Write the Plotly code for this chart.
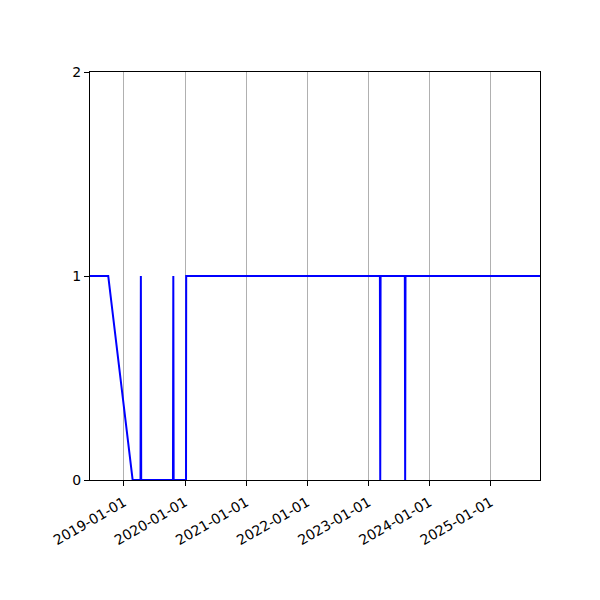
import plotly.graph_objects as go

# sampled points of the step-like series
dates = ["2018-06-12", "2018-09-29", "2019-02-22", "2019-04-10", "2019-04-12",
         "2019-04-14", "2019-10-21", "2019-10-23", "2019-10-25", "2020-01-07",
         "2020-01-08", "2023-03-11", "2023-03-13", "2023-03-15", "2023-08-07",
         "2023-08-09", "2023-08-11", "2025-10-23"]
values = [1, 1, 0, 0, 1, 0, 0, 1, 0, 0, 1, 1, 0, 1, 1, 0, 1, 1]

tick_dates = ["2019-01-01", "2020-01-01", "2021-01-01", "2022-01-01",
              "2023-01-01", "2024-01-01", "2025-01-01"]
y_ticks = [0, 1, 2]

fig = go.Figure()
fig.add_trace(go.Scatter(x=dates, y=values, mode="lines",
                         line=dict(color="#0000ff", width=2), showlegend=False))

fig.update_xaxes(
    range=[dates[0], dates[-1]], tickvals=tick_dates, ticktext=tick_dates,
    tickangle=-30, showgrid=True, gridcolor="#b0b0b0", gridwidth=1,
    showline=True, linecolor="black", linewidth=1, mirror=True,
    ticks="outside", ticklen=5, tickcolor="black", zeroline=False,
    ticklabelstandoff=3,
)
fig.update_yaxes(
    range=[0, 2], tickvals=y_ticks, showgrid=False,
    showline=True, linecolor="black", linewidth=1, mirror=True,
    ticks="outside", ticklen=5, tickcolor="black", zeroline=False,
)
# page body adds an 8px offset, so margins are shifted to compensate
fig.update_layout(
    width=600, height=600,
    margin=dict(l=82, r=68, t=64, b=128),
    plot_bgcolor="white", paper_bgcolor="white",
    font=dict(family="DejaVu Sans", size=14, color="black"),
)
fig.write_html("out.html")
